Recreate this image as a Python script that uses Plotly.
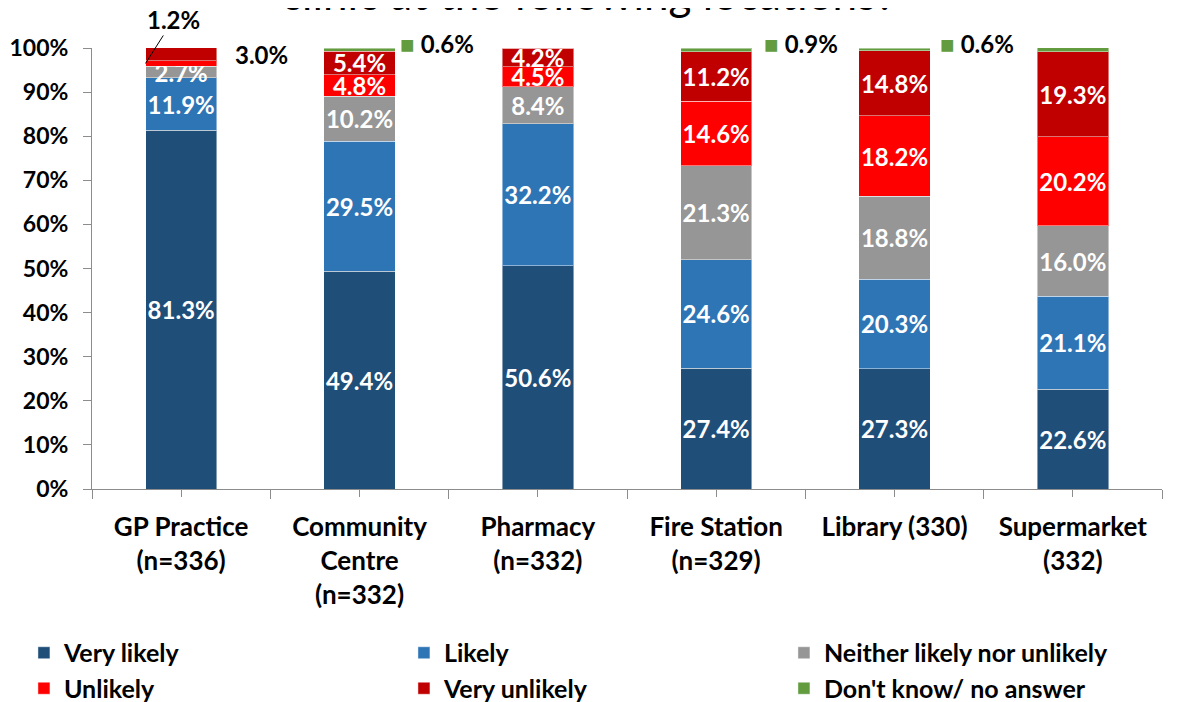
import plotly.graph_objects as go

categories = ["GP Practice<br>(n=336)", "Community<br>Centre<br>(n=332)", "Pharmacy<br>(n=332)",
              "Fire Station<br>(n=329)", "Library (330)", "Supermarket<br>(332)"]
series_names = ["Very likely", "Likely", "Neither likely nor unlikely", "Unlikely",
                "Very unlikely", "Don't know/ no answer"]
very_likely = [81.3, 49.4, 50.6, 27.4, 27.3, 22.6]
likely = [11.9, 29.5, 32.2, 24.6, 20.3, 21.1]
neither = [2.7, 10.2, 8.4, 21.3, 18.8, 16.0]
unlikely = [1.2, 4.8, 4.5, 14.6, 18.2, 20.2]
very_unlikely = [3.0, 5.4, 4.2, 11.2, 14.8, 19.3]
dont_know = [0.0, 0.6, 0.0, 0.9, 0.6, 0.9]
y_ticks = [0, 10, 20, 30, 40, 50, 60, 70, 80, 90, 100]
title_text = "clinic at the following locations?"

colors = ["#1F4E79", "#2E75B6", "#969696", "#FF0000", "#C00000", "#629C3F"]
series = [very_likely, likely, neither, unlikely, very_unlikely, dont_know]

FONT = "Lato"
LBL = 24
BAR_W = 0.4
xpos = list(range(len(categories)))

# labels placed outside the bars (series index, category index)
outside = {(3, 0), (4, 0)}

fig = go.Figure()
for si, (name, vals, col) in enumerate(zip(series_names, series, colors)):
    texts = []
    for ci, v in enumerate(vals):
        if si == 5 or (si, ci) in outside or v == 0:
            texts.append("")
        else:
            texts.append(f"{v:.1f}%")
    fig.add_trace(go.Bar(
        x=xpos, y=vals, name=name, width=BAR_W,
        marker=dict(color=col, line=dict(color="rgba(255,255,255,0.45)", width=1)),
        text=texts, textposition="inside", insidetextanchor="middle", textangle=0,
        textfont=dict(color="white", family=FONT, size=LBL, weight="bold"),
        hoverinfo="skip",
    ))

annotations = []
cum = [0.0] * len(categories)
cums = []
for vals in series:
    cums.append(list(cum))
    cum = [c + v for c, v in zip(cum, vals)]

gp = 0
annotations.append(dict(
    x=gp - BAR_W / 2, y=cums[3][gp] + unlikely[gp] / 2, xref="x", yref="y",
    text=f"<b>{unlikely[gp]:.1f}%</b>", showarrow=True, arrowhead=0, arrowwidth=1,
    arrowcolor="black", ax=28, ay=-44, font=dict(family=FONT, size=LBL, color="black"),
))
annotations.append(dict(
    x=gp + BAR_W / 2, y=cums[4][gp] + very_unlikely[gp] / 2, xref="x", yref="y",
    text=f"<b>{very_unlikely[gp]:.1f}%</b>", showarrow=False, xanchor="left", xshift=16,
    font=dict(family=FONT, size=LBL, color="black"),
))
dk_xshift = {1: 3, 3: 10, 4: 8, 5: -4}
for ci, v in enumerate(dont_know):
    if v > 0:
        annotations.append(dict(
            x=ci + BAR_W / 2, y=cum[ci], xref="x", yref="y",
            text=f"<span style='color:{colors[5]}'>■</span> <b>{v:.1f}%</b>",
            showarrow=False, xanchor="left", yanchor="middle",
            xshift=dk_xshift.get(ci, 4), yshift=5,
            font=dict(family=FONT, size=LBL, color="black"),
        ))
annotations.append(dict(
    x=0.4636, y=1.0 + 40 / 441, xref="paper", yref="paper", text=title_text,
    showarrow=False, xanchor="center", yanchor="middle", yshift=15,
    font=dict(family=FONT, size=44, color="black"),
))

axis_col = "#8C8C8C"
fig.update_layout(
    width=1181, height=694,
    margin=dict(l=84, r=27, t=40, b=213, autoexpand=False),
    paper_bgcolor="white", plot_bgcolor="white",
    barmode="stack",
    showlegend=True,
    legend=dict(orientation="h", x=-0.0636, y=-0.3197, xanchor="left", yanchor="top",
                entrywidth=335, entrywidthmode="pixels", traceorder="normal",
                font=dict(family=FONT, size=25, color="black", weight="bold"),
                itemclick=False, tracegroupgap=0),
    uniformtext=dict(minsize=LBL, mode="show"),
    annotations=annotations,
    xaxis=dict(range=[-0.5, len(categories) - 0.5], tickmode="array", tickvals=xpos,
               ticktext=[f"<b>{c}</b>" for c in categories],
               tickfont=dict(family=FONT, size=26, color="black"), ticklabelstandoff=8,
               showgrid=False, zeroline=False, showline=True, linecolor=axis_col, linewidth=1,
               ticks="outside", ticklen=7, tickcolor=axis_col, tickwidth=1,
               minor=dict(tickmode="linear", tick0=-0.5, dtick=1, ticks="outside",
                          ticklen=9, tickcolor=axis_col, tickwidth=1, showgrid=False),
               fixedrange=True),
    xaxis2=dict(overlaying="x", anchor="y", side="bottom",
                range=[-0.5, len(categories) - 0.5], tickmode="array", tickvals=xpos,
                showticklabels=False, showgrid=False, zeroline=False, showline=False,
                ticks="inside", ticklen=7, tickcolor=axis_col, tickwidth=1,
                minor=dict(tickmode="linear", tick0=-0.5, dtick=1, ticks="inside",
                           ticklen=10, tickcolor=axis_col, tickwidth=1, showgrid=False)),
    yaxis=dict(range=[0, 100], tickmode="array", tickvals=y_ticks,
               ticktext=[f"<b>{t}%</b>" for t in y_ticks],
               tickfont=dict(family=FONT, size=23, color="black"), ticklabelstandoff=10,
               showgrid=False, zeroline=False, showline=True, linecolor=axis_col, linewidth=1,
               ticks="outside", ticklen=8, tickcolor=axis_col, tickwidth=1, fixedrange=True),
    yaxis2=dict(overlaying="y", anchor="x", side="left", range=[0, 100], tickmode="array",
                tickvals=y_ticks, showticklabels=False, showgrid=False, zeroline=False,
                showline=False, ticks="inside", ticklen=9, tickcolor=axis_col, tickwidth=1),
)

fig.write_html("out.html")
